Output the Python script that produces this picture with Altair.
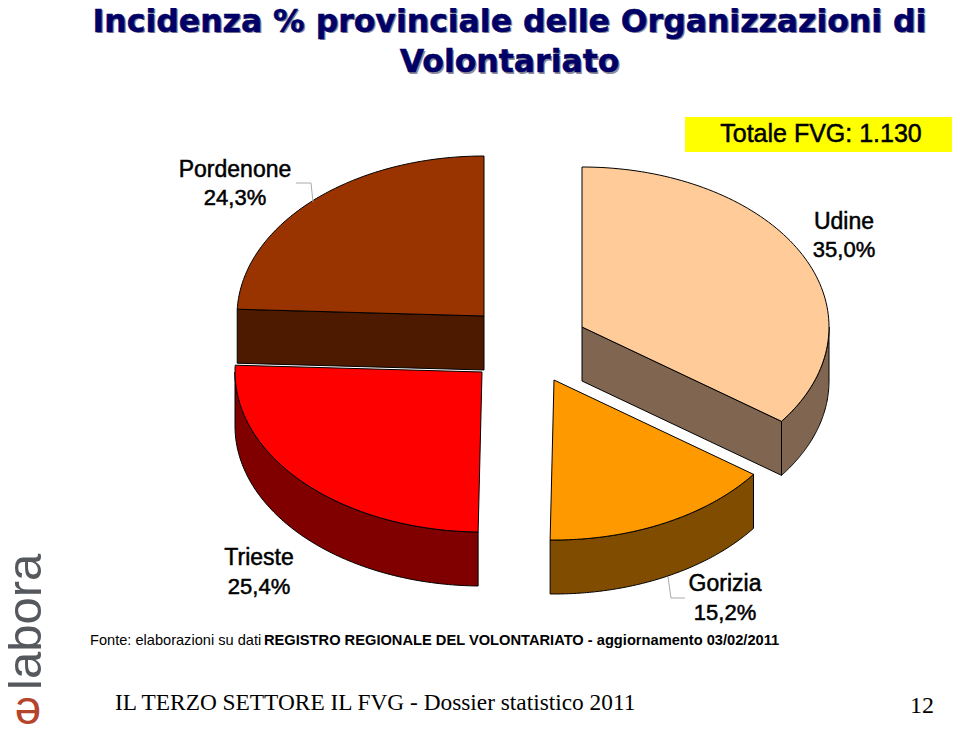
import math
import altair as alt
import pandas as pd

# Chart values
names = ["Udine", "Gorizia", "Trieste", "Pordenone"]
shares = [35.0, 15.2, 25.4, 24.3]
share_labels = ["35,0%", "15,2%", "25,4%", "24,3%"]
top_colors = ["#FFCC99", "#FF9900", "#FF0000", "#993300"]
wall_colors = ["#806650", "#804D00", "#800000", "#4D1A00"]
title_lines = ["Incidenza % provinciale delle Organizzazioni di", "Volontariato"]
total_label = "Totale FVG: 1.130"
source_plain = "Fonte: elaborazioni su dati "
source_bold = "REGISTRO REGIONALE DEL VOLONTARIATO - aggiornamento 03/02/2011"
footer = "IL TERZO SETTORE IL FVG - Dossier statistico 2011"
page_no = "12"

# Pie geometry (page pixels)
apexes = [(582, 327), (554, 380), (482, 372), (484, 316)]
RX, RY, DEPTH = 247, 160, 54
M = 8
W, H = 944, 716

xs = alt.Scale(domain=[0, W], range=[0, W])
ys = alt.Scale(domain=[0, H], range=[0, H])


def pt(apex, deg, dy=0):
    a = math.radians(deg)
    return (apex[0] + RX * math.sin(a), apex[1] - RY * math.cos(a) + dy)


def arc(apex, a0, a1, dy=0, n=90):
    return [pt(apex, a0 + (a1 - a0) * k / n, dy) for k in range(n + 1)]


def poly(points, fill, stroke="black", sw=1.0):
    df = pd.DataFrame(
        [{"x": p[0] - M, "y": p[1] - M, "i": k} for k, p in enumerate(points)]
    )
    return alt.Chart(df).mark_line(
        interpolate="linear-closed", fill=fill, stroke=stroke, strokeWidth=sw
    ).encode(
        x=alt.X("x:Q", scale=xs, axis=None),
        y=alt.Y("y:Q", scale=ys, axis=None),
        order="i:Q",
    )


def leader(points):
    df = pd.DataFrame(
        [{"x": p[0] - M, "y": p[1] - M, "i": k} for k, p in enumerate(points)]
    )
    return alt.Chart(df).mark_line(stroke="#aaaaaa", strokeWidth=1).encode(
        x=alt.X("x:Q", scale=xs, axis=None),
        y=alt.Y("y:Q", scale=ys, axis=None),
        order="i:Q",
    )


def text(s, x, y, size, font="Liberation Sans", color="black", align="center",
         weight="normal", angle=0, baseline="middle", stroke=None, sw=0):
    kw = dict(text=s, font=font, fontSize=size, color=color, align=align,
              fontWeight=weight, angle=angle, baseline=baseline)
    if stroke:
        kw.update(stroke=stroke, strokeWidth=sw)
    return alt.Chart(pd.DataFrame({"a": [0]})).mark_text(**kw).encode(
        x=alt.value(x - M), y=alt.value(y - M)
    )


layers = []

# Slice angle bounds, clockwise from 12 o'clock
bounds = [0]
for s in shares:
    bounds.append(bounds[-1] + s * 360 / sum(shares))

# Pordenone
a0, a1, c = bounds[3], bounds[4], apexes[3]
layers.append(poly([c, pt(c, a0), pt(c, a0, DEPTH), (c[0], c[1] + DEPTH)], wall_colors[3]))
layers.append(poly([c] + arc(c, a0, a1), top_colors[3]))

# Udine
a0, a1, c = bounds[0], bounds[1], apexes[0]
layers.append(poly([c, pt(c, a1), pt(c, a1, DEPTH), (c[0], c[1] + DEPTH)], wall_colors[0]))
layers.append(poly(arc(c, 90, a1) + arc(c, a1, 90, DEPTH), wall_colors[0]))
layers.append(poly([c] + arc(c, a0, a1), top_colors[0]))

# Trieste
a0, a1, c = bounds[2], bounds[3], apexes[2]
layers.append(poly(arc(c, a0, 270) + arc(c, 270, a0, DEPTH), wall_colors[2]))
layers.append(poly([c] + arc(c, a0, a1), top_colors[2]))

# Gorizia
a0, a1, c = bounds[1], bounds[2], apexes[1]
layers.append(poly(arc(c, a0, a1) + arc(c, a1, a0, DEPTH), wall_colors[1]))
layers.append(poly([c] + arc(c, a0, a1), top_colors[1]))

# Leader lines
layers.append(leader([(296, 183), (311, 183), (313, 202)]))
layers.append(leader([(668, 577), (671, 598), (685, 598)]))

# Yellow box
layers.append(
    alt.Chart(pd.DataFrame({"a": [0]})).mark_rect(color="#FFFF00").encode(
        x=alt.value(685 - M), x2=alt.value(957 - M),
        y=alt.value(117 - M), y2=alt.value(152 - M),
    )
)

# Title with shadow
for line, y in zip(title_lines, [22.5, 63]):
    layers.append(text(line, 511, y + 1.5, 31.5, font="DejaVu Sans", color="#8c8c9c", weight="bold"))
    layers.append(text(line, 509.5, y, 31.5, font="DejaVu Sans", color="#000066", weight="bold", stroke="#000066", sw=0.5))

layers.append(text(total_label, 821, 134, 25, stroke="black", sw=0.5))

# Slice labels
label_pos = [(844, 222, 250), (725, 584, 613), (259, 558, 587), (235, 170, 198)]
for n, sl, (x, y1, y2) in zip(names, share_labels, label_pos):
    layers.append(text(n, x, y1, 23, stroke="black", sw=0.5))
    layers.append(text(sl, x, y2, 22, stroke="black", sw=0.5))

# Source
layers.append(text(source_plain, 90, 641, 14.6, align="left"))
layers.append(text(source_bold, 264, 641, 14.67, align="left", weight="bold"))

# Footer
layers.append(text(footer, 115, 703, 23.35, font="Liberation Serif", align="left"))
layers.append(text(page_no, 922, 706, 24, font="Liberation Serif"))

# Logo
layers.append(text("labora", 41, 690, 49, color="#55585c", align="left", angle=270, baseline="alphabetic"))
layers.append(text("e", 28, 712, 48, color="#b5442c", align="center", angle=180))

chart = alt.layer(*layers).properties(
    width=W, height=H, padding=0, autosize="none", background="white"
).configure_view(stroke=None)

chart.save("out.html", embed_options={"renderer": "svg", "actions": False})
